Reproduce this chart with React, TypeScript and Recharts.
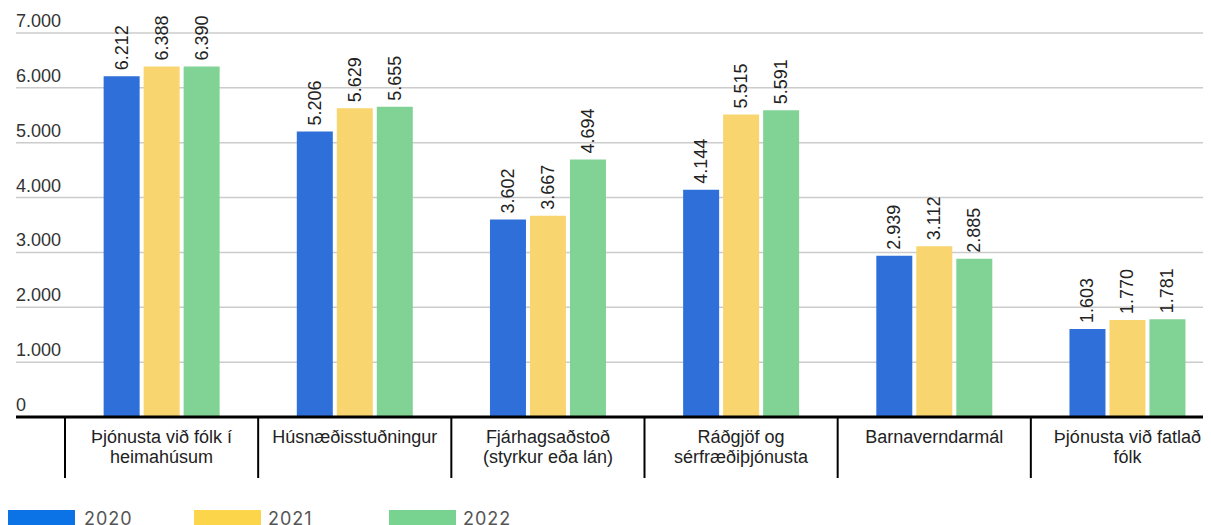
import { BarChart, Bar, XAxis, YAxis, CartesianGrid, LabelList } from "recharts";

const categories = [
  "Þjónusta við fólk í\nheimahúsum",
  "Húsnæðisstuðningur",
  "Fjárhagsaðstoð\n(styrkur eða lán)",
  "Ráðgjöf og\nsérfræðiþjónusta",
  "Barnaverndarmál",
  "Þjónusta við fatlað\nfólk",
];
const values2020 = [6212, 5206, 3602, 4144, 2939, 1603];
const values2021 = [6388, 5629, 3667, 5515, 3112, 1770];
const values2022 = [6390, 5655, 4694, 5591, 2885, 1781];
const yTicks = [0, 1000, 2000, 3000, 4000, 5000, 6000, 7000];
const yTickLabels = ["0", "1.000", "2.000", "3.000", "4.000", "5.000", "6.000", "7.000"];
const years = ["2020", "2021", "2022"];

const barColors = ["#2e6fd9", "#f8d56f", "#80d395"];
const legendColors = ["#0b73e6", "#fdd54a", "#78d390"];

const data = categories.map((name, i) => ({
  name,
  y2020: values2020[i],
  y2021: values2021[i],
  y2022: values2022[i],
}));

const FONT = "'Liberation Sans', Arial, sans-serif";
const CHART_W = 1216;
const CHART_H = 480;
const PLOT_LEFT = 57;
const PLOT_RIGHT = CHART_W;
const AXIS_Y = 409;
const HALF_BAND = (PLOT_RIGHT - PLOT_LEFT) / categories.length / 2;

const fmt = (v: number) => String(v).replace(/\B(?=(\d{3})+(?!\d))/g, ".");

function YTick(props: any) {
  const { y, payload } = props;
  const v = payload.value as number;
  const idx = yTicks.indexOf(v);
  return (
    <g>
      <line
        x1={8}
        x2={PLOT_LEFT}
        y1={y}
        y2={y}
        stroke={v === 0 ? "#000" : "#cccccc"}
        strokeWidth={v === 0 ? 3 : 1.5}
      />
      <text x={8} y={y - 6} fontSize={18} fill="#333" fontFamily={FONT}>
        {yTickLabels[idx]}
      </text>
    </g>
  );
}

function XTick(props: any) {
  const { x, payload } = props;
  const lines = String(payload.value).split("\n");
  const left = x - HALF_BAND;
  return (
    <g>
      <line x1={left} x2={left} y1={AXIS_Y} y2={470} stroke="#000" strokeWidth={2} />
      <text textAnchor="middle" fontSize={18} fill="#222" fontFamily={FONT}>
        {lines.map((l, i) => (
          <tspan key={i} x={x} y={435 + i * 20}>
            {l}
          </tspan>
        ))}
      </text>
    </g>
  );
}

function ValueLabel(props: any) {
  const { x, y, width, value } = props;
  const cx = x + width / 2;
  const ty = y - 6;
  return (
    <text
      x={cx}
      y={ty}
      transform={`rotate(-90, ${cx}, ${ty})`}
      textAnchor="start"
      dominantBaseline="central"
      fontSize={18}
      fill="#222"
      fontFamily={FONT}
    >
      {fmt(value)}
    </text>
  );
}

const legendPos = [
  { rect: 0, text: 76 },
  { rect: 186, text: 260 },
  { rect: 381, text: 455 },
];

export default function App() {
  return (
    <div style={{ position: "relative", width: 1203, height: 530, overflow: "hidden" }}>
      <div style={{ position: "absolute", left: 0, top: 0 }}>
        <BarChart
          width={CHART_W}
          height={CHART_H}
          data={data}
          margin={{ top: 25, right: 0, left: 8, bottom: 0 }}
          barCategoryGap="20%"
          barGap={4}
        >
          <CartesianGrid vertical={false} stroke="#cccccc" strokeWidth={1.5} />
          <XAxis
            dataKey="name"
            height={71}
            interval={0}
            tickLine={false}
            axisLine={{ stroke: "#000", strokeWidth: 3 }}
            tick={<XTick />}
          />
          <YAxis
            width={49}
            domain={[0, 7000]}
            ticks={yTicks}
            tickLine={false}
            axisLine={false}
            tick={<YTick />}
          />
          {["y2020", "y2021", "y2022"].map((k, i) => (
            <Bar key={k} dataKey={k} fill={barColors[i]} isAnimationActive={false}>
              <LabelList dataKey={k} content={<ValueLabel />} />
            </Bar>
          ))}
        </BarChart>
      </div>
      {years.map((yr, i) => (
        <div key={yr}>
          <div
            style={{
              position: "absolute",
              left: legendPos[i].rect,
              top: 502,
              width: 67,
              height: 18,
              background: legendColors[i],
            }}
          />
          <div
            style={{
              position: "absolute",
              left: legendPos[i].text,
              top: 500,
              fontFamily: "Inter, 'Open Sans', sans-serif",
              fontSize: 18,
              lineHeight: "22px",
              letterSpacing: 1,
              color: "#555",
            }}
          >
            {yr}
          </div>
        </div>
      ))}
    </div>
  );
}
